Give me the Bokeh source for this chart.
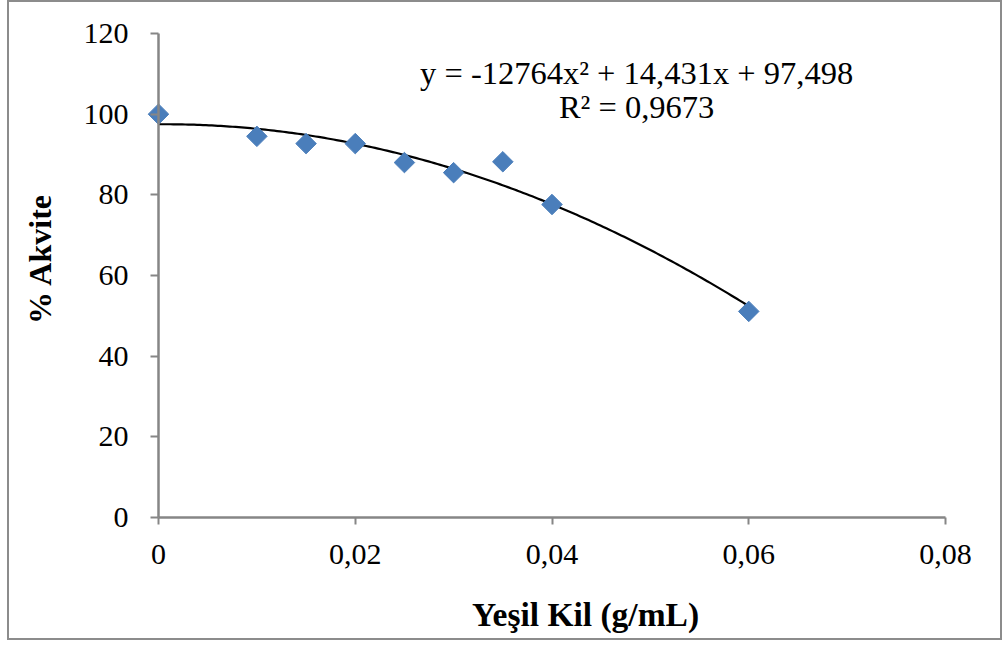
import numpy as np
from bokeh.plotting import figure
from bokeh.models import Range1d, FixedTicker
from bokeh.embed import file_html
from bokeh.resources import INLINE
from bokeh.core.properties import value

# Yeşil kil derişimi (g/mL) ve % aktivite
kil = [0, 0.01, 0.015, 0.02, 0.025, 0.03, 0.035, 0.04, 0.06]
aktivite = [100, 94.5, 92.7, 92.7, 88.0, 85.5, 88.2, 77.6, 51.1]

# İkinci dereceden eğilim çizgisi katsayıları
a2, a1, a0 = -12764, 14.431, 97.498
r_kare = 0.9673
denklem = "y = -12764x² + 14,431x + 97,498"
r_metni = "R² = 0,9673"

x_ticks = [0, 0.02, 0.04, 0.06, 0.08]
x_tick_labels = ["0", "0,02", "0,04", "0,06", "0,08"]
y_ticks = [0, 20, 40, 60, 80, 100, 120]
x_baslik = "Yeşil Kil (g/mL)"
y_baslik = "% Akvite"

SERIF = "Liberation Serif"
AXIS_GRAY = "#868686"
BLUE = "#4a7ebb"

# The frame fills the whole canvas; both axes are pinned at 0 and
# bounded to the data span, so tick labels, titles and the first
# marker all sit inside the frame and nothing is clipped.
X_RANGE = (-0.015146, 0.085997)
Y_RANGE = (-30.992, 127.686)

p = figure(
    width=995, height=640,
    x_range=Range1d(*X_RANGE), y_range=Range1d(*Y_RANGE),
    output_backend="svg", toolbar_location=None,
    min_border=0,
)
p.styles = {"border": "2px solid #8c8c8c", "margin-left": "7px"}
p.outline_line_color = None
p.xgrid.visible = False
p.ygrid.visible = False

for ax in (p.xaxis[0], p.yaxis[0]):
    ax.axis_line_color = AXIS_GRAY
    ax.axis_line_width = 2.5
    ax.major_tick_line_color = AXIS_GRAY
    ax.major_tick_line_width = 2
    ax.minor_tick_line_color = None
    ax.major_tick_in = 0
    ax.major_label_text_font = SERIF
    ax.major_label_text_font_size = "30px"
    ax.major_label_text_color = "black"
    ax.fixed_location = 0

xa = p.xaxis[0]
xa.ticker = FixedTicker(ticks=x_ticks)
xa.major_label_overrides = {t: s for t, s in zip(x_ticks, x_tick_labels)}
xa.bounds = (0, 0.08)
xa.major_tick_out = 7
xa.major_label_standoff = 21

ya = p.yaxis[0]
ya.ticker = FixedTicker(ticks=y_ticks)
ya.bounds = (0, 120)
ya.major_tick_out = 8
ya.major_label_standoff = 22

# eksen başlıkları
p.text(x=[-0.012], y=[64.2], text=[y_baslik], angle=np.pi / 2,
       text_font=value(SERIF), text_font_style="bold", text_font_size="32px",
       text_align="center", text_baseline="middle", text_color="black")
p.text(x=[0.04341], y=[-24.0], text=[x_baslik],
       text_font=value(SERIF), text_font_style="bold", text_font_size="33.5px",
       text_align="center", text_baseline="middle", text_color="black")

# eğilim çizgisi
xs = np.linspace(0, max(kil), 200)
ys = a2 * xs ** 2 + a1 * xs + a0
p.line(xs, ys, line_color="black", line_width=2.2)

# ölçüm noktaları
p.scatter(kil, aktivite, marker="square", size=14.5, angle=np.pi / 4,
          fill_color=BLUE, line_color=BLUE)

# denklem ve R²
p.text(x=[0.0486, 0.0486], y=[110.3, 101.8], text=[denklem, r_metni],
       text_font=value(SERIF), text_font_size="32.5px", text_align="center",
       text_baseline="middle", text_color="black")

open("out.html", "w").write(file_html(p, INLINE))
